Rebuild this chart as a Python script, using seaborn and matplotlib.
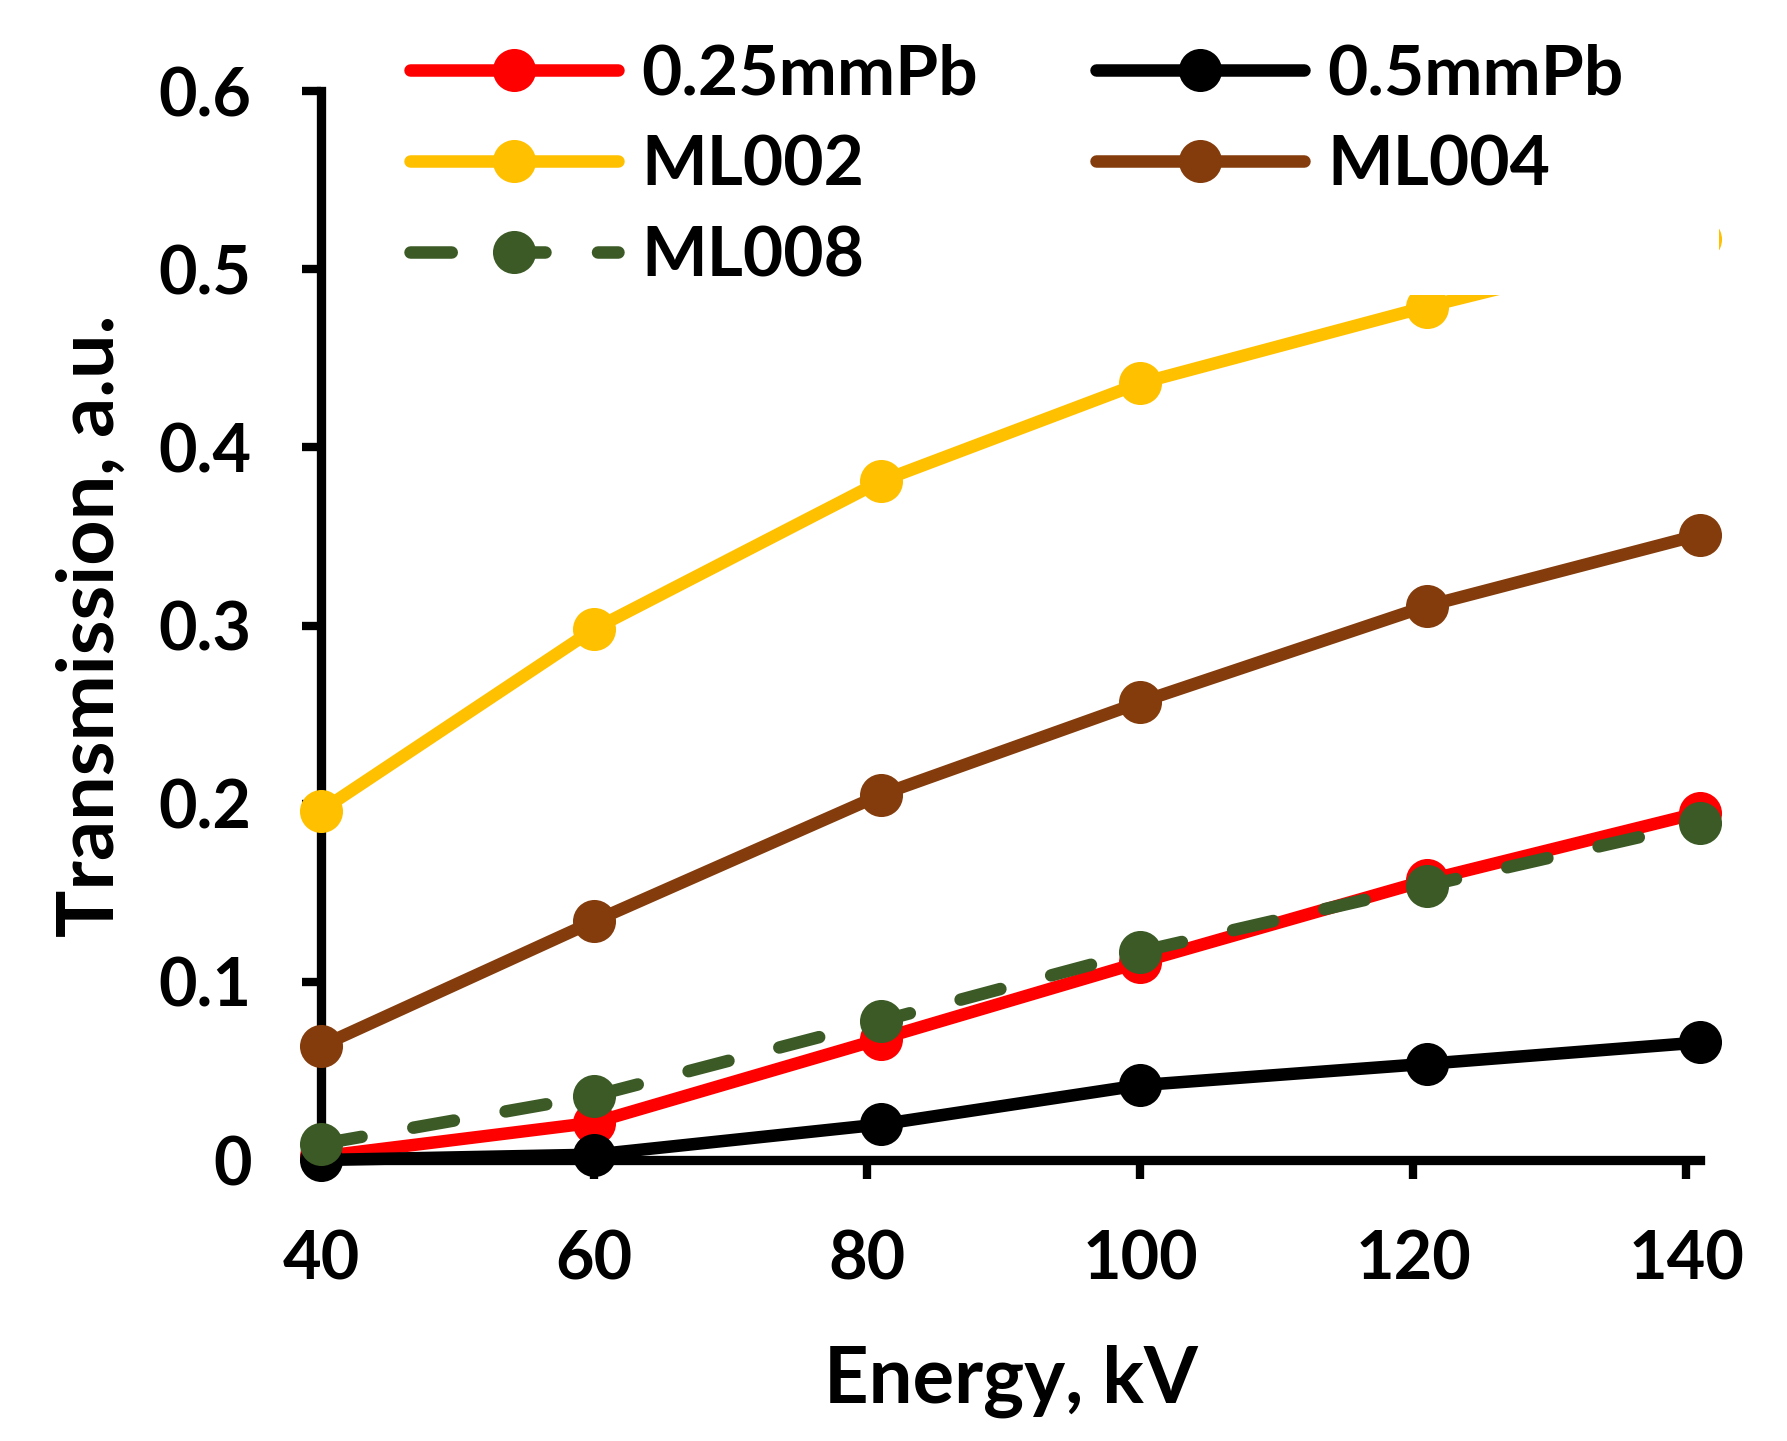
import matplotlib
matplotlib.use("Agg")
import matplotlib.pyplot as plt
from matplotlib.patches import Rectangle
import seaborn as sns

# data
energy = [40, 60, 81, 100, 121, 141]
pb025 = [0.002, 0.021, 0.068, 0.111, 0.157, 0.195]
pb05 = [0.0, 0.003, 0.020, 0.042, 0.054, 0.066]
ml002 = [0.196, 0.298, 0.381, 0.436, 0.479, 0.517]
ml004 = [0.064, 0.134, 0.205, 0.257, 0.311, 0.351]
ml008 = [0.009, 0.036, 0.078, 0.117, 0.154, 0.189]

names = ['0.25mmPb', '0.5mmPb', 'ML002', 'ML004', 'ML008']
colors = ['#ff0000', '#000000', '#ffc000', '#843c0c', '#3b5a25']
series = [pb025, pb05, ml002, ml004, ml008]

sns.set_style('ticks')
plt.rcParams['font.family'] = ['Lato', 'DejaVu Sans']
plt.rcParams['font.weight'] = 'bold'
plt.rcParams['text.color'] = 'black'
plt.rcParams['axes.labelcolor'] = 'black'
plt.rcParams['xtick.color'] = 'black'
plt.rcParams['ytick.color'] = 'black'

fig = plt.figure(figsize=(17.87, 14.41), dpi=100)
ax = fig.add_axes([0.1796, 0.195, 0.7717, 0.7418])

for i, (name, vals, c) in enumerate(zip(names, series, colors)):
    ls = (0, (3.3, 4.2)) if name == 'ML008' else '-'
    sns.lineplot(x=energy, y=vals, ax=ax, color=c, marker='o', markersize=31,
                 markeredgewidth=0, linewidth=9, linestyle=ls, label=name,
                 dash_capstyle='round', solid_capstyle='round',
                 clip_on=False, zorder=3 + i)

ax.set_xlim(40, 141)
ax.set_ylim(0, 0.6)
ax.set_xticks([40, 60, 80, 100, 120, 140])
ax.set_yticks([0, 0.1, 0.2, 0.3, 0.4, 0.5, 0.6])
ax.set_yticklabels(['0', '0.1', '0.2', '0.3', '0.4', '0.5', '0.6'])

sns.despine(ax=ax)
for s in ['left', 'bottom']:
    ax.spines[s].set_linewidth(6.7)
    ax.spines[s].set_color('black')
ax.tick_params(axis='both', direction='out', length=14, width=6, color='black',
               labelsize=48, pad=36)

ax.set_xlabel('Energy, kV', fontsize=56, fontweight='bold', labelpad=38)
ax.set_ylabel('Transmission, a.u.', fontsize=57, fontweight='bold', labelpad=22)

# white background of the legend area hides the end of the ML002 curve
bg = Rectangle((0.56, 0.795), 0.402, 0.205, transform=fig.transFigure,
               facecolor='white', edgecolor='none', zorder=20, clip_on=False)
ax.add_patch(bg)

lines = {l.get_label(): l for l in ax.get_lines()}
order = ['0.25mmPb', 'ML002', 'ML008', '0.5mmPb', 'ML004']
leg = ax.legend([lines[n] for n in order], order, ncol=2, frameon=False,
                loc='upper left', bbox_to_anchor=(0.2255, 0.9745),
                bbox_transform=fig.transFigure, fontsize=50,
                handlelength=3.0, handletextpad=0.33, labelspacing=0.4,
                columnspacing=1.7, borderpad=0.1, borderaxespad=0)
leg.set_zorder(30)

fig.savefig('out.png', dpi=100)
